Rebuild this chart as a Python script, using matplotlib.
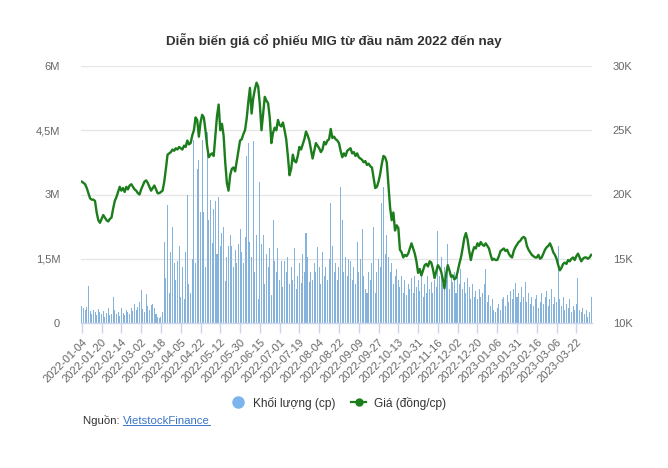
import matplotlib
matplotlib.use("Agg")
import matplotlib.pyplot as plt
from matplotlib.lines import Line2D

plt.rcParams['font.family'] = ['Liberation Sans', 'DejaVu Sans']

title = "Diễn biến giá cổ phiếu MIG từ đầu năm 2022 đến nay"

tick_labels = ["2022-01-04", "2022-01-20", "2022-02-14", "2022-03-02", "2022-03-18",
               "2022-04-05", "2022-04-22", "2022-05-12", "2022-05-30", "2022-06-15",
               "2022-07-01", "2022-07-19", "2022-08-04", "2022-08-22", "2022-09-09",
               "2022-09-27", "2022-10-13", "2022-10-31", "2022-11-16", "2022-12-02",
               "2022-12-20", "2023-01-06", "2023-01-31", "2023-02-16", "2023-03-06",
               "2023-03-22"]

# closing price, thousand VND
price_k = [
    21.0, 20.9, 20.8, 20.5, 20.1, 19.7, 19.6, 19.6, 19.5, 18.6, 18.0, 17.8,
    18.1, 18.4, 18.2, 18.0, 17.9, 18.1, 18.2, 18.9, 19.5, 19.8, 20.2, 20.6,
    20.3, 20.5, 20.2, 20.6, 20.4, 20.7, 20.8, 20.6, 20.4, 20.3, 20.1, 20.0,
    20.4, 20.7, 21.0, 21.1, 20.9, 20.6, 20.3, 20.5, 20.7, 20.4, 20.1, 20.1,
    20.2, 20.3, 21.0, 22.0, 23.1, 23.2, 23.3, 23.5, 23.4, 23.6, 23.5, 23.7,
    23.6, 23.5, 23.8, 23.7, 24.2, 23.9, 24.0, 24.6, 25.0, 26.0, 25.8, 24.5,
    25.6, 26.2, 26.0, 25.0, 23.8, 22.9, 23.1, 23.2, 23.0, 24.5, 26.1, 27.0,
    25.0, 25.5, 24.6, 22.5, 20.9, 20.3, 21.5, 22.0, 22.1, 21.8, 22.6, 23.4,
    24.2, 24.3, 24.7, 25.0, 25.9, 27.2, 28.3, 26.3, 27.5, 28.2, 28.7, 28.4,
    27.0, 25.0, 26.3, 27.6, 27.3, 27.1, 26.0, 24.0, 24.8, 25.2, 25.0, 25.8,
    25.4, 25.3, 25.6, 25.0, 24.3, 23.0, 21.5, 22.0, 23.1, 22.6, 22.5, 23.0,
    23.7, 23.5, 23.9, 24.3, 24.9, 24.6, 24.2, 23.5, 22.8, 23.4, 24.0, 23.8,
    23.6, 23.3, 23.5, 24.1, 23.9, 24.2, 24.3, 25.1, 24.4, 24.5, 24.3, 24.2,
    24.0, 23.4, 22.9, 23.2, 23.0, 23.4, 23.5, 23.6, 23.2, 23.3, 23.0, 23.2,
    22.9, 22.8, 22.7, 22.5, 22.6, 22.3, 22.4, 22.2, 22.1, 21.3, 20.5, 20.6,
    21.0, 21.6, 22.4, 23.0, 22.9, 22.5, 20.8, 19.0, 18.0, 18.6, 17.2, 17.6,
    17.4, 15.7, 15.5, 15.1, 15.3, 15.2, 15.4, 15.8, 16.2, 15.8, 15.4, 14.8,
    13.9, 14.2, 13.7, 14.1, 14.5, 14.6, 14.4, 14.8, 14.7, 14.2, 13.5, 14.0,
    14.5, 14.3, 14.0, 13.4, 12.7, 13.8, 14.5, 14.1, 13.6, 13.7, 13.4, 13.5,
    14.0, 14.6, 15.1, 15.8, 16.6, 17.0, 16.5, 15.6, 14.9, 15.5, 15.9, 15.8,
    16.2, 16.0, 16.3, 16.1, 16.0, 16.2, 16.0, 15.8, 15.3, 14.9, 15.0, 14.9,
    14.9, 15.2, 15.6, 15.7, 15.8, 15.6, 15.7, 15.4, 15.2, 15.1, 15.6, 15.9,
    16.1, 16.3, 16.4, 16.6, 16.7, 16.6, 16.0, 15.7, 15.5, 15.3, 15.2, 15.1,
    15.1, 15.3, 15.0, 15.1, 15.4, 15.7, 15.9, 16.0, 16.2, 15.9, 15.5, 15.3,
    15.0, 14.5, 14.1, 14.3, 14.6, 14.7, 14.6, 14.9, 14.8, 15.0, 15.1, 14.9,
    15.2, 15.4, 15.1, 14.8, 15.0, 15.1, 15.1, 15.0, 15.1, 15.3,
]

# traded volume, million shares
volume_m = [
    0.40, 0.35, 0.30, 0.38, 0.86, 0.28, 0.22, 0.30, 0.25, 0.18, 0.33, 0.26,
    0.20, 0.28, 0.15, 0.24, 0.35, 0.18, 0.22, 0.60, 0.30, 0.20, 0.25, 0.16,
    0.34, 0.24, 0.18, 0.30, 0.26, 0.22, 0.35, 0.28, 0.45, 0.30, 0.38, 0.48,
    0.77, 0.32, 0.25, 0.68, 0.40, 0.30, 0.42, 0.44, 0.35, 0.20, 0.15, 0.12,
    0.15, 0.25, 1.90, 1.05, 2.75, 0.70, 1.65, 2.25, 1.40, 1.00, 1.45, 1.80,
    0.60, 1.30, 0.55, 1.65, 3.00, 0.90, 0.70, 1.50, 4.27, 1.40, 3.60, 3.80,
    2.60, 4.27, 2.60, 1.30, 4.45, 2.40, 2.87, 1.87, 2.65, 2.85, 1.60, 2.95,
    1.80, 2.10, 2.25, 0.98, 1.55, 1.80, 2.05, 1.80, 1.30, 1.70, 1.40, 1.85,
    2.20, 1.65, 1.40, 2.00, 3.90, 4.20, 1.90, 1.55, 4.25, 1.20, 2.05, 0.55,
    3.30, 1.85, 2.05, 0.90, 1.60, 1.30, 1.75, 0.65, 2.40, 1.45, 1.20, 1.75,
    1.00, 1.45, 0.85, 1.45, 1.20, 1.55, 0.90, 1.30, 1.00, 1.75, 0.80, 1.10,
    1.40, 0.93, 1.60, 1.20, 2.10, 1.55, 0.95, 1.20, 1.00, 1.40, 1.20, 1.78,
    1.30, 0.90, 1.65, 1.10, 1.30, 1.00, 1.50, 2.80, 1.80, 1.20, 1.40, 1.00,
    1.30, 3.17, 2.40, 1.20, 1.55, 1.10, 1.50, 1.45, 1.00, 1.30, 0.90, 1.90,
    1.20, 1.50, 2.20, 1.10, 0.80, 0.70, 1.20, 1.00, 1.40, 2.25, 0.70, 1.20,
    1.50, 1.30, 2.80, 3.17, 1.60, 2.05, 1.55, 1.20, 1.40, 0.90, 1.10, 1.25,
    1.00, 0.85, 1.10, 0.70, 1.00, 0.65, 0.90, 0.80, 1.05, 0.70, 1.10, 0.85,
    1.00, 0.75, 1.20, 0.60, 0.90, 0.70, 1.10, 0.80, 0.95, 0.70, 1.00, 0.85,
    2.15, 1.10, 1.55, 0.90, 1.30, 1.00, 1.85, 0.80, 1.10, 0.95, 1.20, 0.70,
    1.15, 0.90, 1.25, 0.80, 0.95, 0.70, 1.05, 0.85, 0.55, 0.90, 0.60, 0.75,
    0.55, 0.80, 0.60, 0.70, 0.90, 1.25, 0.50, 0.65, 0.40, 0.55, 0.30, 0.25,
    0.35, 0.45, 0.30, 0.55, 0.60, 0.40, 0.65, 0.50, 0.75, 0.55, 0.80, 0.93,
    0.60, 0.70, 0.50, 0.85, 0.60, 0.95, 0.50, 0.70, 0.45, 0.60, 0.40, 0.55,
    0.65, 0.35, 0.50, 0.70, 0.45, 0.60, 0.75, 0.40, 0.55, 0.80, 0.45, 0.60,
    0.50, 1.80, 0.55, 0.40, 0.60, 0.30, 0.45, 0.35, 0.55, 0.25, 0.40, 0.30,
    0.45, 1.05, 0.30, 0.25, 0.35, 0.20, 0.30, 0.15, 0.25, 0.60,
]

left_ticks = [0, 1.5, 3, 4.5, 6]
left_labels = ["0", "1,5M", "3M", "4,5M", "6M"]
right_ticks = [10, 15, 20, 25, 30]
right_labels = ["10K", "15K", "20K", "25K", "30K"]

legend_labels = ["Khối lượng (cp)", "Giá (đồng/cp)"]

BAR_C = "#86b3db"
LINE_C = "#1b7d1b"
GRID_C = "#e6e6e6"
AXIS_C = "#ccd6eb"
TXT_C = "#666666"

W, H = 668, 468
fig = plt.figure(figsize=(W / 100, H / 100), dpi=100)
fig.patch.set_facecolor("white")

L, R, T, B = 81, 592, 66, 323
ax = fig.add_axes([L / W, 1 - B / H, (R - L) / W, (B - T) / H])
ax.set_facecolor("none")
n = len(volume_m)
xs = list(range(n))
ax.bar(xs, volume_m, width=0.62, color=BAR_C, linewidth=0, zorder=2)
ax.set_xlim(-0.5, n - 0.5)
ax.set_ylim(0, 6)
ax.set_yticks(left_ticks)
ax.set_yticklabels(left_labels)
for y in left_ticks[1:]:
    ax.axhline(y, color=GRID_C, lw=1, zorder=0)
for s in ["left", "right", "top"]:
    ax.spines[s].set_visible(False)
ax.spines["bottom"].set_color(AXIS_C)
ax.spines["bottom"].set_linewidth(1)
ax.tick_params(axis="y", length=0, pad=15, labelsize=8, labelcolor=TXT_C)
tick_pos = list(range(0, 12 * len(tick_labels), 12))
ax.set_xticks(tick_pos)
ax.set_xticklabels(tick_labels, rotation=45, ha="right", va="top",
                   rotation_mode="anchor")
ax.tick_params(axis="x", length=7.2, width=1, color=AXIS_C, pad=3,
               labelsize=8, labelcolor=TXT_C)

ax2 = ax.twinx()
ax2.plot(xs, price_k, color=LINE_C, lw=1.7, zorder=3, solid_joinstyle="round")
ax2.set_ylim(10, 30)
ax2.set_yticks(right_ticks)
ax2.set_yticklabels(right_labels)
for s in ["left", "right", "top", "bottom"]:
    ax2.spines[s].set_visible(False)
ax2.tick_params(axis="y", length=0, pad=15, labelsize=8, labelcolor=TXT_C)

fig.text(334 / W, 1 - 40 / H, title, ha="center", va="center",
         fontsize=9.6, fontweight="bold", color="#333333")

handles = [
    Line2D([], [], marker="o", color="none", markerfacecolor="#7cb5ec",
           markeredgecolor="#7cb5ec", markersize=8),
    Line2D([], [], marker="o", color=LINE_C, lw=1.6, markerfacecolor=LINE_C,
           markeredgecolor=LINE_C, markersize=5),
]
fig.legend(handles, legend_labels, loc="center",
           bbox_to_anchor=(338 / W, 1 - 403 / H), ncol=2, frameon=False,
           fontsize=8.6, handlelength=1.3, handletextpad=0.6,
           columnspacing=1.3, labelcolor="#333333")

t1 = fig.text(83 / W, 1 - 421 / H, "Nguồn: ", ha="left", va="center",
              fontsize=8.2, color="#333333")
fig.canvas.draw()
r = fig.canvas.get_renderer()
bb = t1.get_window_extent(r)
x2 = bb.x1 / W
t2 = fig.text(x2, 1 - 421 / H, "VietstockFinance", ha="left", va="center",
              fontsize=8.2, color="#3a75c4")
fig.canvas.draw()
bb2 = t2.get_window_extent(r)
fig.add_artist(Line2D([bb2.x0 / W, bb2.x1 / W],
                      [(bb2.y0 + 1.5) / H, (bb2.y0 + 1.5) / H],
                      color="#3a75c4", lw=0.7))

fig.savefig("out.png", dpi=100)
